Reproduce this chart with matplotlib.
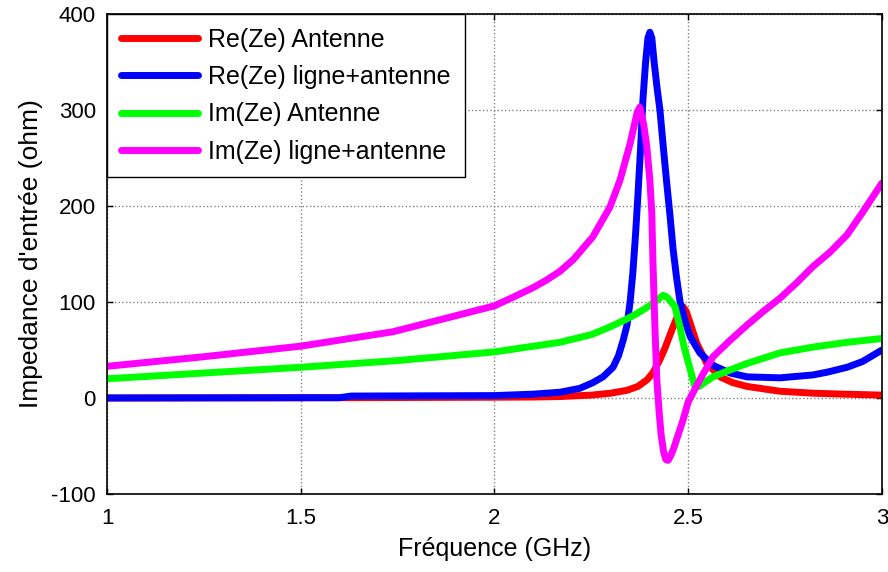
import matplotlib
matplotlib.use("Agg")
import matplotlib.pyplot as plt

plt.rcParams['font.family'] = ['Liberation Sans', 'DejaVu Sans']
plt.rcParams['axes.unicode_minus'] = False

# Re(Ze) Antenne
re_ant_f = [1.0, 1.6, 2.0, 2.1, 2.169, 2.25, 2.3, 2.342, 2.37, 2.394, 2.41, 2.427, 2.44,
            2.458, 2.472, 2.48, 2.487, 2.495, 2.505, 2.522, 2.548, 2.582, 2.615, 2.652,
            2.737, 2.822, 2.9, 3.0]
re_ant_z = [0, 0.3, 0.8, 1, 1.5, 3, 5, 8, 12, 19, 27, 40, 52,
            71, 85, 92, 95, 90, 78, 57, 36, 22, 16, 12,
            7, 5, 4, 3]

# Re(Ze) ligne+antenne
re_lig_f = [1.0, 1.6, 1.63, 2.0, 2.1, 2.169, 2.22, 2.254, 2.28, 2.306, 2.32, 2.332, 2.342,
            2.35, 2.357, 2.364, 2.37, 2.377, 2.383, 2.39, 2.396, 2.401, 2.406, 2.412,
            2.419, 2.427, 2.436, 2.445, 2.453, 2.461, 2.47, 2.479, 2.492, 2.505, 2.53,
            2.564, 2.608, 2.652, 2.737, 2.822, 2.86, 2.91, 2.95, 3.0]
re_lig_z = [0, 0.3, 2, 2.5, 4, 6, 10, 16, 22, 32, 44, 60, 76,
            100, 130, 170, 210, 260, 310, 350, 375, 381, 375, 350,
            325, 300, 260, 222, 190, 155, 125, 100, 80, 64, 47,
            34, 26, 22, 21, 24, 27, 32, 38, 50]

# Im(Ze) Antenne
im_ant_f = [1.0, 1.25, 1.5, 1.75, 2.0, 2.169, 2.25, 2.298, 2.34, 2.368, 2.4, 2.42, 2.435,
            2.445, 2.458, 2.466, 2.478, 2.49, 2.505, 2.517, 2.528, 2.545, 2.564, 2.6,
            2.652, 2.737, 2.822, 2.91, 3.0]
im_ant_z = [20, 26, 32, 39, 48, 58, 66, 74, 82, 88, 96, 102, 107,
            105, 99, 95, 75, 52, 30, 12, 12, 17, 22, 28,
            36, 47, 53, 58, 62]

# Im(Ze) ligne+antenne
im_lig_f = [1.0, 1.25, 1.5, 1.738, 2.0, 2.048, 2.1, 2.135, 2.169, 2.203, 2.254, 2.298,
            2.324, 2.35, 2.368, 2.375, 2.385, 2.393, 2.401, 2.406, 2.409, 2.414, 2.419,
            2.425, 2.43, 2.436, 2.442, 2.448, 2.455, 2.463, 2.471, 2.485, 2.5, 2.53,
            2.564, 2.608, 2.652, 2.693, 2.737, 2.78, 2.822, 2.866, 2.91, 2.951, 3.0]
im_lig_z = [33, 43, 54, 69, 96, 105, 115, 123, 132, 144, 168, 199,
            227, 265, 297, 303, 285, 262, 227, 193, 141, 74, 19,
            -15, -38, -55, -64, -65, -60, -52, -42, -25, -4, 19,
            43, 60, 76, 90, 104, 120, 137, 152, 170, 194, 224]

labels = ['Re(Ze) Antenne', 'Re(Ze) ligne+antenne', 'Im(Ze) Antenne', 'Im(Ze) ligne+antenne']
colors = ['#ff0000', '#0000ff', '#00ff00', '#ff00ff']

fig = plt.figure(figsize=(8.88, 5.72), dpi=100)
ax = fig.add_axes([0.1205, 0.1364, 0.8727, 0.8391])

series = [(re_ant_f, re_ant_z), (re_lig_f, re_lig_z), (im_ant_f, im_ant_z), (im_lig_f, im_lig_z)]
for (f, z), lab, c in zip(series, labels, colors):
    ax.plot(f, z, color=c, linewidth=5, label=lab, solid_capstyle='round',
            solid_joinstyle='round')

ax.set_xlim(1, 3)
ax.set_ylim(-100, 400)
ax.set_xticks([1, 1.5, 2, 2.5, 3])
ax.set_xticklabels(['1', '1.5', '2', '2.5', '3'])
ax.set_yticks([-100, 0, 100, 200, 300, 400])
ax.grid(True, linestyle=':', color='#808080', linewidth=1)
ax.tick_params(direction='in', top=True, right=True, labelsize=16, length=4, width=1)
ax.tick_params(axis='x', pad=10)
ax.tick_params(axis='y', pad=8)
for s in ax.spines.values():
    s.set_linewidth(1.2)

ax.set_xlabel('Fréquence (GHz)', fontsize=18, labelpad=6)
ax.set_ylabel("Impedance d'entrée (ohm)", fontsize=19, labelpad=6)

leg = ax.legend(loc='upper left', borderaxespad=0, fancybox=False, edgecolor='black',
                fontsize=18, handlelength=3.1, handletextpad=0.4, framealpha=1,
                borderpad=0.55, labelspacing=0.53)
leg.get_frame().set_linewidth(1)

fig.savefig('out.png', dpi=100)
